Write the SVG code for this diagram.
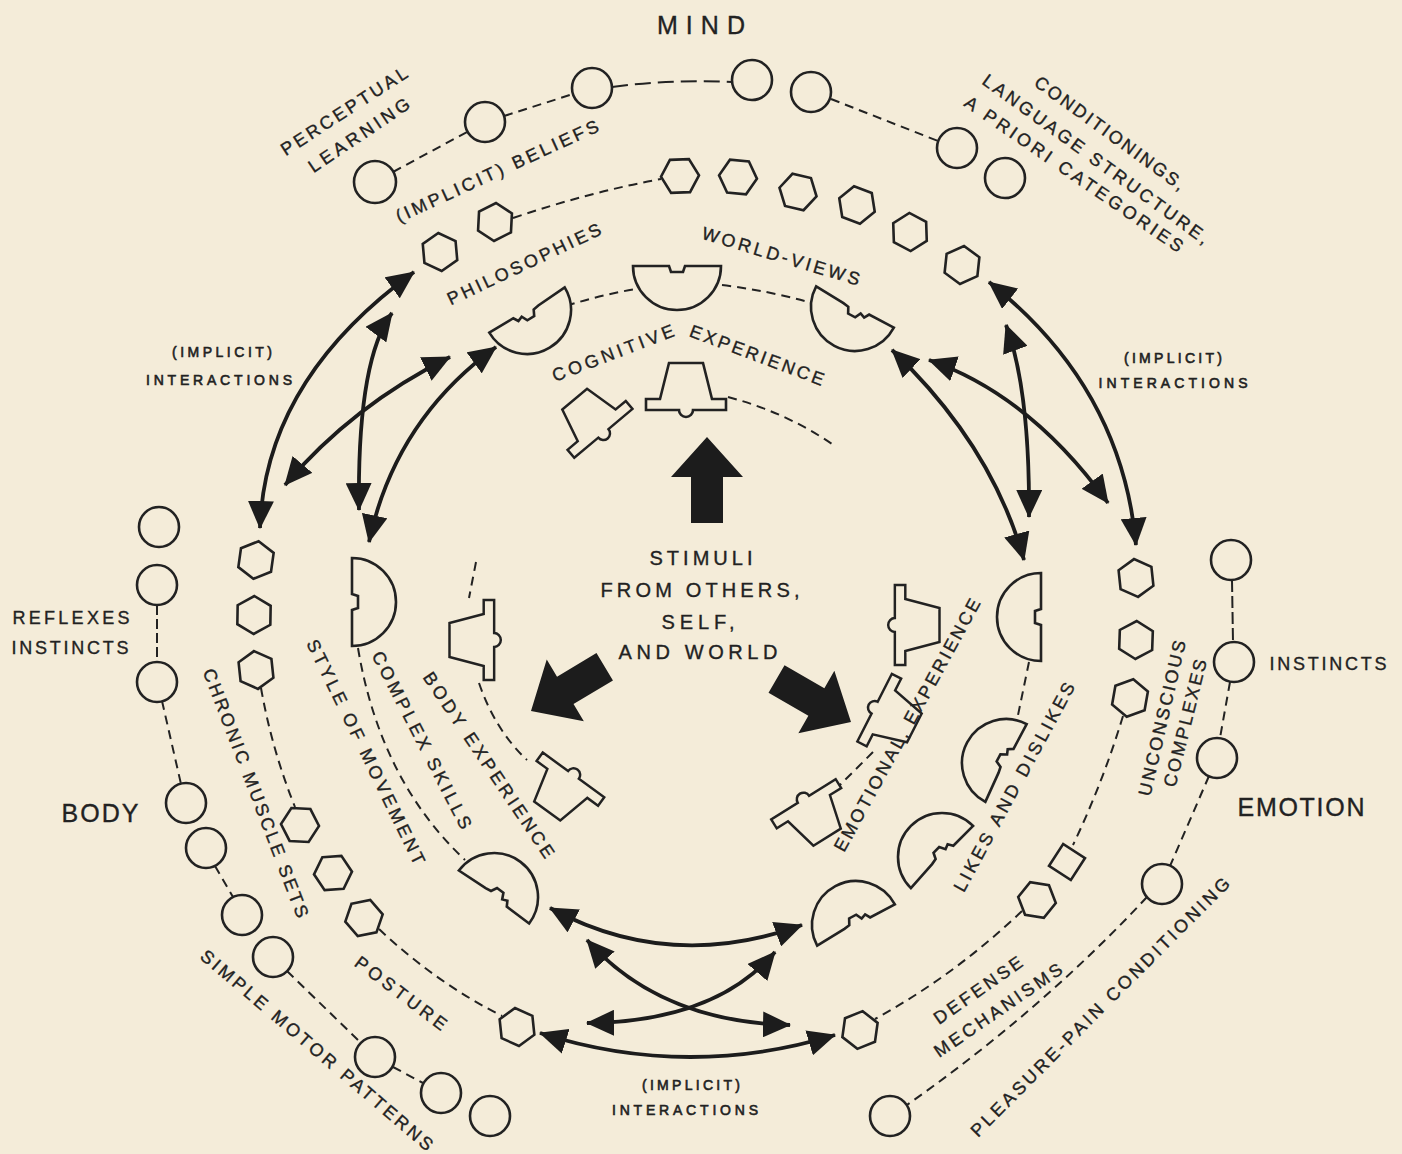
<svg xmlns="http://www.w3.org/2000/svg" xmlns:xlink="http://www.w3.org/1999/xlink" width="1402" height="1154" viewBox="0 0 1402 1154">
<style>
.sh{fill:#F4ECD9;stroke:#222;stroke-width:2.6}
.ds{fill:none;stroke:#222;stroke-width:2;stroke-dasharray:9 6}
.ar{fill:none;stroke:#1c1c1c;stroke-width:3.8;marker-start:url(#ah);marker-end:url(#ah)}
.big{fill:#1c1c1c}
text{font-family:"Liberation Sans",Arial,sans-serif;fill:#222;stroke:#222;stroke-width:0.35;text-anchor:middle}
.l{font-size:18px}
.s{font-size:14px;stroke-width:0.6}
.h{font-size:25px}
.c{font-size:20px}
</style>
<defs>
<marker id="ah" viewBox="0 0 28 26" refX="27" refY="13" markerWidth="28" markerHeight="26" markerUnits="userSpaceOnUse" orient="auto-start-reverse"><path d="M0,0 L28,13 L0,26 Z" fill="#1c1c1c"/></marker>
<path id="hex" d="M19,0 L9.5,16.5 L-9.5,16.5 L-19,0 L-9.5,-16.5 L9.5,-16.5 Z"/>
<path id="semi" d="M-44,0 L-8,0 L-6,6 L6,6 L8,0 L44,0 A44,44 0 0 1 -44,0 Z"/>
<path id="semi2" d="M-44,0 L-16,0 L-13,5 L-8,3 L-5,9 L3,9 L6,3 L12,2 L44,0 A44,44 0 0 1 -44,0 Z"/>
<path id="bell" d="M-17,-30 L17,-30 L26,6 L40,6 L40,17 L7,17 A7,7 0 0 1 -7,17 L-40,17 L-40,6 L-26,6 Z"/>
<path id="bigarrow" d="M0,0 L36,40 L16,40 L16,86 L-16,86 L-16,40 L-36,40 Z"/>
</defs>
<rect width="1402" height="1154" fill="#F4ECD9"/>

<g id="connectors">
<path class="ds" d="M393,172 L467,132"/>
<path class="ds" d="M504,116 L573,94"/>
<path class="ds" d="M612,87 Q672,79 732,82" style="stroke-dasharray:16 7"/>
<path class="ds" d="M831,99 L938,141"/>
<path class="ds" d="M157,605 L157,662" style="stroke-dasharray:10 4"/>
<path class="ds" d="M162,701 L181,784"/>
<path class="ds" d="M215,866 L233,897"/>
<path class="ds" d="M287,971 L361,1043"/>
<path class="ds" d="M393,1067 L423,1083"/>
<path class="ds" d="M1232,580 L1233,642" style="stroke-dasharray:12 4"/>
<path class="ds" d="M1230,682 L1220,738"/>
<path class="ds" d="M1209,776 L1170,866"/>
<path class="ds" d="M1147,897 Q1040,1012 904,1107"/>
<path class="ds" d="M513,218 Q590,192 661,179"/>
<path class="ds" d="M261,688 Q272,750 295,807"/>
<path class="ds" d="M379,929 Q435,982 502,1016"/>
<path class="ds" d="M1123,716 Q1103,782 1073,845"/>
<path class="ds" d="M1022,911 Q955,975 875,1019"/>
<path class="ds" d="M566,306 Q600,295 636,289"/>
<path class="ds" d="M722,285 Q770,291 812,303"/>
<path class="ds" d="M358,648 Q380,780 465,860"/>
<path class="ds" d="M1029,662 L1017,720"/>
<path class="ds" d="M728,397 Q785,412 832,444"/>
<path class="ds" d="M476,562 L469,598"/>
<path class="ds" d="M479,683 Q495,730 527,760"/>
<path class="ds" d="M873,752 L830,795"/>
<path class="ar" d="M414,272 Q265,380 260,528"/>
<path class="ar" d="M392,313 Q357,360 359,510"/>
<path class="ar" d="M450,357 Q353,405 285,485"/>
<path class="ar" d="M496,347 Q395,420 369,542"/>
<path class="ar" d="M989,282 Q1122,387 1136,545"/>
<path class="ar" d="M1006,325 Q1030,390 1029,517"/>
<path class="ar" d="M892,350 Q992,445 1024,560"/>
<path class="ar" d="M929,360 Q1030,395 1108,503"/>
<path class="ar" d="M550,908 Q670,973 802,925"/>
<path class="ar" d="M587,940 Q660,1022 790,1025"/>
<path class="ar" d="M775,952 Q715,1022 587,1023"/>
<path class="ar" d="M540,1033 Q687,1080 835,1035"/>
</g>

<g id="outer-ring">
<g id="c1"><circle class="sh" cx="375" cy="182" r="21"/></g>
<g id="c2"><circle class="sh" cx="485" cy="122" r="20"/></g>
<g id="c3"><circle class="sh" cx="592" cy="88" r="20"/></g>
<g id="c4"><circle class="sh" cx="752" cy="80" r="20"/></g>
<g id="c5"><circle class="sh" cx="811" cy="92" r="20"/></g>
<g id="c6"><circle class="sh" cx="957" cy="148" r="20"/></g>
<g id="c7"><circle class="sh" cx="1005" cy="178" r="20"/></g>
<g id="l1"><circle class="sh" cx="159" cy="527" r="20"/></g>
<g id="l2"><circle class="sh" cx="157" cy="585" r="20"/></g>
<g id="l3"><circle class="sh" cx="157" cy="682" r="20"/></g>
<g id="l4"><circle class="sh" cx="186" cy="803" r="20"/></g>
<g id="l5"><circle class="sh" cx="206" cy="848" r="20"/></g>
<g id="l6"><circle class="sh" cx="242" cy="915" r="20"/></g>
<g id="l7"><circle class="sh" cx="273" cy="957" r="20"/></g>
<g id="l8"><circle class="sh" cx="375" cy="1057" r="20"/></g>
<g id="l9"><circle class="sh" cx="441" cy="1093" r="20"/></g>
<g id="l10"><circle class="sh" cx="490" cy="1116" r="20"/></g>
<g id="r1"><circle class="sh" cx="1231" cy="560" r="20"/></g>
<g id="r2"><circle class="sh" cx="1234" cy="662" r="20"/></g>
<g id="r3"><circle class="sh" cx="1217" cy="758" r="20"/></g>
<g id="r4"><circle class="sh" cx="1162" cy="884" r="20"/></g>
<g id="r5"><circle class="sh" cx="890" cy="1116" r="20"/></g>
</g>

<g id="second-ring">
<g id="h1"><use href="#hex" class="sh" transform="translate(440,252) rotate(-35)"/></g>
<g id="h2"><use href="#hex" class="sh" transform="translate(495,222) rotate(-27)"/></g>
<g id="h3"><use href="#hex" class="sh" transform="translate(680,176) rotate(-2)"/></g>
<g id="h4"><use href="#hex" class="sh" transform="translate(738,177) rotate(5)"/></g>
<g id="h5"><use href="#hex" class="sh" transform="translate(798,192) rotate(13)"/></g>
<g id="h6"><use href="#hex" class="sh" transform="translate(857,205) rotate(21)"/></g>
<g id="h7"><use href="#hex" class="sh" transform="translate(910,232) rotate(28)"/></g>
<g id="h8"><use href="#hex" class="sh" transform="translate(962,265) rotate(36)"/></g>
<g id="h9"><use href="#hex" class="sh" transform="translate(256,560) rotate(-82)"/></g>
<g id="h10"><use href="#hex" class="sh" transform="translate(254,615) rotate(-89)"/></g>
<g id="h11"><use href="#hex" class="sh" transform="translate(256,670) rotate(-96)"/></g>
<g id="h12"><use href="#hex" class="sh" transform="translate(300,825) rotate(-117)"/></g>
<g id="h13"><use href="#hex" class="sh" transform="translate(333,873) rotate(-124)"/></g>
<g id="h14"><use href="#hex" class="sh" transform="translate(364,918) rotate(-131)"/></g>
<g id="h15"><use href="#hex" class="sh" transform="translate(517,1027) rotate(-156)"/></g>
<g id="h16"><use href="#hex" class="sh" transform="translate(1136,578) rotate(84)"/></g>
<g id="h17"><use href="#hex" class="sh" transform="translate(1136,640) rotate(92)"/></g>
<g id="h18"><use href="#hex" class="sh" transform="translate(1130,698) rotate(100)"/></g>
<g id="sq"><rect class="sh" x="-13" y="-13" width="26" height="26" transform="translate(1067,862) rotate(33)"/></g>
<g id="h19"><use href="#hex" class="sh" transform="translate(1037,900) rotate(129)"/></g>
<g id="h20"><use href="#hex" class="sh" transform="translate(860,1030) rotate(158)"/></g>
</g>

<g id="third-ring">
<g id="s1"><use href="#semi" class="sh" transform="translate(677,266)"/></g>
<g id="s2"><use href="#semi2" class="sh" transform="translate(527,310) rotate(-31)"/></g>
<g id="s3"><use href="#semi2" class="sh" transform="translate(855,307) rotate(28) scale(-1,1)"/></g>
<g id="s4"><use href="#semi" class="sh" transform="translate(352,602) rotate(-90)"/></g>
<g id="s5"><use href="#semi" class="sh" transform="translate(1041,617) rotate(90)"/></g>
<g id="s6"><use href="#semi2" class="sh" transform="translate(1006,763) rotate(118)"/></g>
<g id="s7"><use href="#semi2" class="sh" transform="translate(942,857) rotate(135)"/></g>
<g id="s8"><use href="#semi2" class="sh" transform="translate(856,925) rotate(152)"/></g>
<g id="s9"><use href="#semi2" class="sh" transform="translate(494,897) rotate(-143)"/></g>
</g>

<g id="inner-ring">
<g id="b1"><use href="#bell" class="sh" transform="translate(686,393)"/></g>
<g id="b2"><use href="#bell" class="sh" transform="translate(593,421) rotate(-40) scale(0.95)"/></g>
<g id="b3"><use href="#bell" class="sh" transform="translate(478,640) rotate(-90) scale(1,0.95)"/></g>
<g id="b4"><use href="#bell" class="sh" transform="translate(564,788) rotate(-144) scale(0.95)"/></g>
<g id="b5"><use href="#bell" class="sh" transform="translate(911,625) rotate(90) scale(1,0.95)"/></g>
<g id="b6"><use href="#bell" class="sh" transform="translate(889,715) rotate(117) scale(0.95)"/></g>
<g id="b7"><use href="#bell" class="sh" transform="translate(812,813) rotate(148) scale(0.95)"/></g>
</g>

<g id="stimuli">
<use href="#bigarrow" class="big" transform="translate(707,437)"/>
<use href="#bigarrow" class="big" transform="translate(531,711) rotate(-121)"/>
<use href="#bigarrow" class="big" transform="translate(851,722) rotate(120)"/>
<text class="c" x="701" y="565" textLength="103" lengthAdjust="spacing">STIMULI</text>
<text class="c" x="700" y="597" textLength="199" lengthAdjust="spacing">FROM OTHERS,</text>
<text class="c" x="698" y="629" textLength="73" lengthAdjust="spacing">SELF,</text>
<text class="c" x="698" y="659" textLength="159" lengthAdjust="spacing">AND WORLD</text>
</g>

<g id="labels">
<text class="h" x="701" y="34" textLength="88" lengthAdjust="spacing">MIND</text>
<text class="h" x="100" y="822" textLength="77" lengthAdjust="spacing">BODY</text>
<text class="h" x="1301" y="816" textLength="127" lengthAdjust="spacing">EMOTION</text>
<text class="l" dy="0.35em" transform="translate(344,111) rotate(-33)" textLength="147" lengthAdjust="spacing">PERCEPTUAL</text>
<text class="l" dy="0.35em" transform="translate(359,135) rotate(-34)" textLength="118" lengthAdjust="spacing">LEARNING</text>
<text class="l" dy="0.35em" transform="translate(497,171) rotate(-24.6)" textLength="221" lengthAdjust="spacing">(IMPLICIT) BELIEFS</text>
<text class="l" dy="0.35em" transform="translate(1110,133) rotate(36)" textLength="181" lengthAdjust="spacing">CONDITIONINGS,</text>
<text class="l" dy="0.35em" transform="translate(1096,159) rotate(36)" textLength="275" lengthAdjust="spacing">LANGUAGE STRUCTURE,</text>
<text class="l" dy="0.35em" transform="translate(1074,174) rotate(34.5)" textLength="261" lengthAdjust="spacing">A PRIORI CATEGORIES</text>
<text class="l" dy="0.35em" transform="translate(524,264) rotate(-25.3)" textLength="168" lengthAdjust="spacing">PHILOSOPHIES</text>
<text class="l" dy="0.35em" transform="translate(781,256) rotate(16.7)" textLength="164" lengthAdjust="spacing">WORLD-VIEWS</text>
<text class="l" dy="0.35em" transform="translate(613,353) rotate(-21)" textLength="129" lengthAdjust="spacing">COGNITIVE</text>
<text class="l" dy="0.35em" transform="translate(757,355) rotate(20.6)" textLength="142" lengthAdjust="spacing">EXPERIENCE</text>
<text class="s" x="222" y="357" textLength="100" lengthAdjust="spacing">(IMPLICIT)</text>
<text class="s" x="219" y="385" textLength="146" lengthAdjust="spacing">INTERACTIONS</text>
<text class="s" x="1173" y="363" textLength="98" lengthAdjust="spacing">(IMPLICIT)</text>
<text class="s" x="1173" y="388" textLength="149" lengthAdjust="spacing">INTERACTIONS</text>
<text class="s" x="691" y="1090" textLength="98" lengthAdjust="spacing">(IMPLICIT)</text>
<text class="s" x="685" y="1115" textLength="146" lengthAdjust="spacing">INTERACTIONS</text>
<text class="l" x="71" y="624" textLength="117" lengthAdjust="spacing">REFLEXES</text>
<text class="l" x="70" y="654" textLength="117" lengthAdjust="spacing">INSTINCTS</text>
<text class="l" x="1328" y="670" textLength="117" lengthAdjust="spacing">INSTINCTS</text>
<text class="l" dy="0.35em" transform="translate(256,793) rotate(69)" textLength="265" lengthAdjust="spacing">CHRONIC MUSCLE SETS</text>
<text class="l" dy="0.35em" transform="translate(366,752) rotate(64)" textLength="248" lengthAdjust="spacing">STYLE OF MOVEMENT</text>
<text class="l" dy="0.35em" transform="translate(422,740) rotate(62.8)" textLength="197" lengthAdjust="spacing">COMPLEX SKILLS</text>
<text class="l" dy="0.35em" transform="translate(489,765) rotate(56)" textLength="220" lengthAdjust="spacing">BODY EXPERIENCE</text>
<text class="l" dy="0.35em" transform="translate(317,1050) rotate(40.4)" textLength="299" lengthAdjust="spacing">SIMPLE MOTOR PATTERNS</text>
<text class="l" dy="0.35em" transform="translate(401,993) rotate(37)" textLength="110" lengthAdjust="spacing">POSTURE</text>
<text class="l" dy="0.35em" transform="translate(978,990) rotate(-35)" textLength="104" lengthAdjust="spacing">DEFENSE</text>
<text class="l" dy="0.35em" transform="translate(998,1010) rotate(-34.5)" textLength="151" lengthAdjust="spacing">MECHANISMS</text>
<text class="l" dy="0.35em" transform="translate(1100,1007) rotate(-45)" textLength="358" lengthAdjust="spacing">PLEASURE-PAIN CONDITIONING</text>
<text class="l" dy="0.35em" transform="translate(907,725) rotate(-61.3)" textLength="285" lengthAdjust="spacing">EMOTIONAL, EXPERIENCE</text>
<text class="l" dy="0.35em" transform="translate(1014,787) rotate(-61.6)" textLength="235" lengthAdjust="spacing">LIKES AND DISLIKES</text>
<text class="l" dy="0.35em" transform="translate(1162,718) rotate(-77)" textLength="159" lengthAdjust="spacing">UNCONSCIOUS</text>
<text class="l" dy="0.35em" transform="translate(1185,723) rotate(-76)" textLength="131" lengthAdjust="spacing">COMPLEXES</text>
</g>
</svg>
